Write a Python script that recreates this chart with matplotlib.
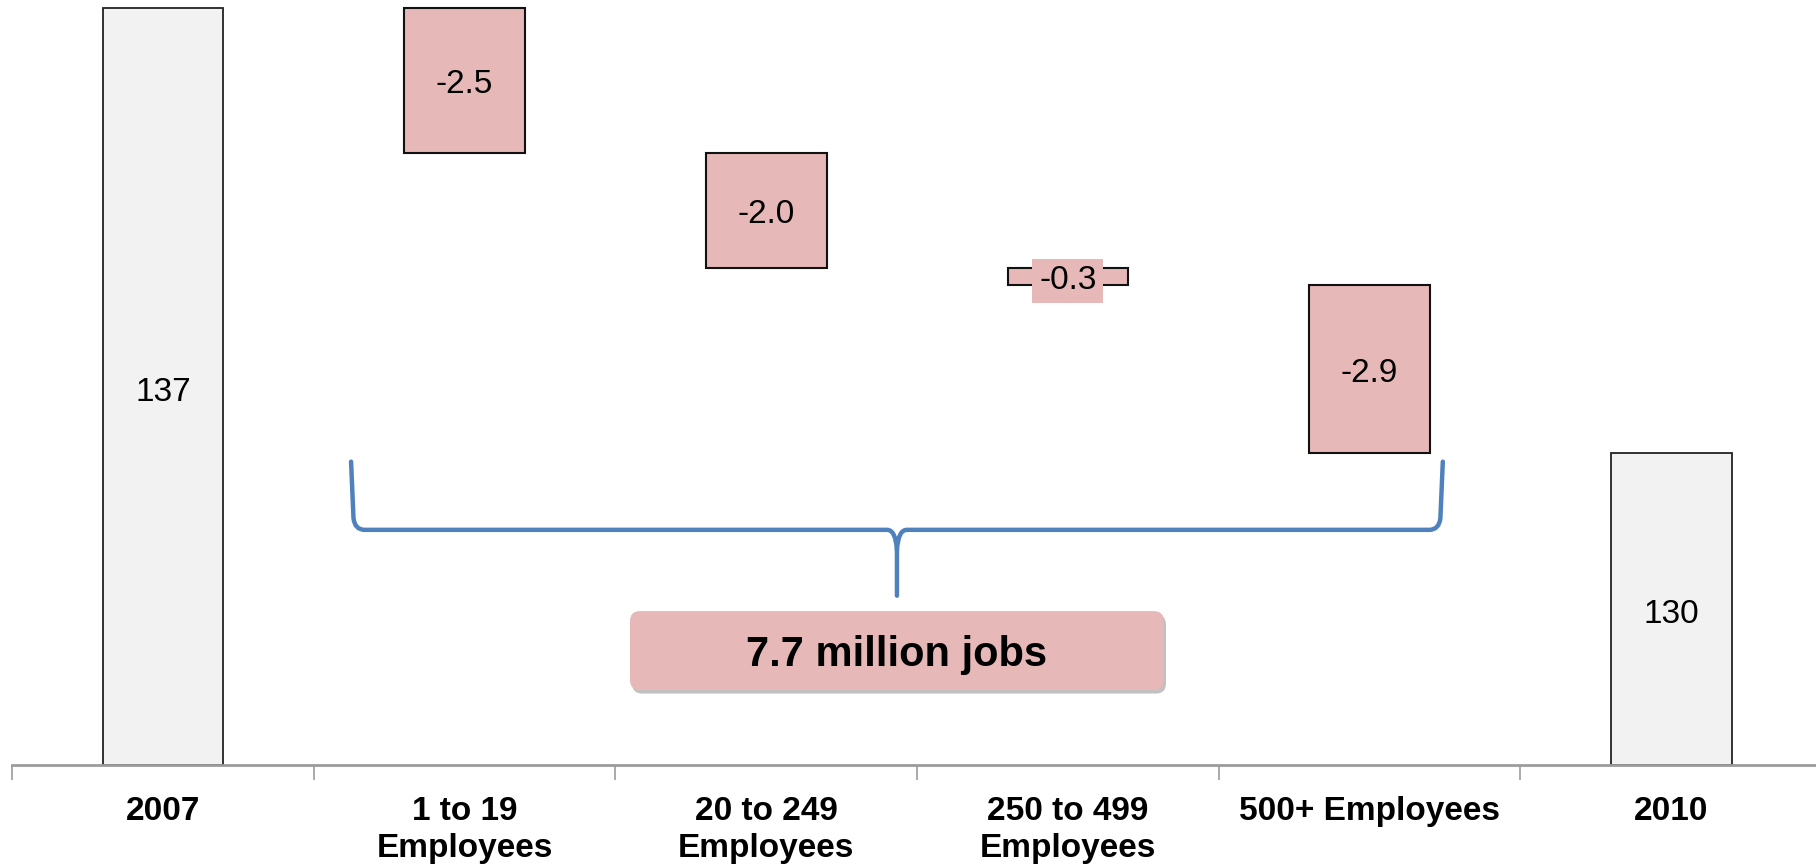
import matplotlib
matplotlib.use("Agg")
import matplotlib.pyplot as plt
import matplotlib.patheffects as pe
from matplotlib.patches import FancyBboxPatch, PathPatch
from matplotlib.path import Path

plt.rcParams["font.family"] = ["Liberation Sans", "DejaVu Sans"]

# Payroll jobs (millions): totals at both ends, losses by firm size in between
categories = ["2007", "1 to 19\nEmployees", "20 to 249\nEmployees",
              "250 to 499\nEmployees", "500+ Employees", "2010"]
total_2007 = 137.3
changes = [-2.5, -2.0, -0.3, -2.9]
total_2010 = 129.6
summary_text = "7.7 million jobs"

TOTAL_COLOR = "#f2f2f2"
LOSS_COLOR = "#e6b9b8"
BRACE_COLOR = "#4f81bd"
AXIS_GREY = "#9c9c9c"
BAR_W = 0.4
Y0 = 124.2

fig = plt.figure(figsize=(18.16, 8.65), dpi=100)
ax = fig.add_axes([12 / 1816, 100 / 865, 1810 / 1816, 765 / 865])

# totals
ax.bar([0, 5], [total_2007 - Y0, total_2010 - Y0], bottom=Y0, width=BAR_W,
       color=TOTAL_COLOR, edgecolor="#222222", linewidth=1.3, zorder=2)
for x, v in [(0, total_2007), (5, total_2010)]:
    ax.annotate(f"{v:.0f}", (x, (v + Y0) / 2), xytext=(0, -4), textcoords="offset points",
                ha="center", va="center", fontsize=24)

# floating losses
level = total_2007
for i, d in enumerate(changes, start=1):
    ax.bar(i, d, bottom=level, width=BAR_W, color=LOSS_COLOR,
           edgecolor="#111111", linewidth=1.5, zorder=2)
    ax.annotate(f"{d:.1f}", (i, level + d / 2), xytext=(0, -3), textcoords="offset points",
                ha="center", va="center", fontsize=24, zorder=3,
                bbox=dict(boxstyle="square,pad=0.2", facecolor=LOSS_COLOR, edgecolor="none"))
    level += d

ax.set_xlim(-0.5, 5.5)
ax.set_ylim(Y0, 137.44)

# axis styling: ticks between categories, labels centred under bars
for side in ("left", "right", "top"):
    ax.spines[side].set_visible(False)
ax.spines["bottom"].set_color(AXIS_GREY)
ax.spines["bottom"].set_linewidth(2)
ax.set_yticks([])
ax.set_xticks([i - 0.5 for i in range(len(categories) + 1)])
ax.set_xticklabels([])
ax.tick_params(axis="x", which="major", length=11, width=1.2, color=AXIS_GREY, direction="out")
ax.set_xticks(range(len(categories)), minor=True)
ax.set_xticklabels(categories, minor=True, fontsize=24, fontweight="bold", linespacing=1.28)
ax.tick_params(axis="x", which="minor", length=0, pad=22)

# curly brace spanning the four loss bars
x0, x1 = 0.624, 4.243
xm = (x0 + x1) / 2
y_top, y_bar, y_tip = 129.45, 128.27, 127.13
cdx, cdy = 0.045, 0.17
mdx, mdy = 0.033, 0.35
verts = [
    (x0, y_top),
    (x0 + 0.008, y_bar + cdy * 1.2),
    (x0 + 0.012, y_bar), (x0 + cdx, y_bar),
    (xm - mdx, y_bar),
    (xm - 0.004, y_bar), (xm, y_bar - mdy),
    (xm, y_tip),
    (xm, y_bar - mdy),
    (xm + 0.004, y_bar), (xm + mdx, y_bar),
    (x1 - cdx, y_bar),
    (x1 - 0.012, y_bar), (x1 - 0.008, y_bar + cdy * 1.2),
    (x1, y_top),
]
codes = [Path.MOVETO, Path.LINETO, Path.CURVE3, Path.CURVE3, Path.LINETO,
         Path.CURVE3, Path.CURVE3, Path.LINETO, Path.MOVETO, Path.CURVE3,
         Path.CURVE3, Path.LINETO, Path.CURVE3, Path.CURVE3, Path.LINETO]
brace = PathPatch(Path(verts, codes), facecolor="none", edgecolor=BRACE_COLOR,
                  linewidth=3.2, capstyle="round", joinstyle="round", zorder=3)
ax.add_patch(brace)

# summary callout
bw, bh = 1.77, 1.367
bx, by = xm - bw / 2, 126.18 - bh / 2
box = FancyBboxPatch((bx, by), bw, bh, boxstyle="round,pad=0,rounding_size=0.033",
                     mutation_aspect=5.22, facecolor=LOSS_COLOR, edgecolor="none", zorder=3)
box.set_path_effects([pe.SimplePatchShadow(offset=(1.5, -2.5), shadow_rgbFace="#777777", alpha=0.45),
                      pe.Normal()])
ax.add_patch(box)
ax.annotate(summary_text, (xm, 126.18), xytext=(0, -3.5), textcoords="offset points",
            ha="center", va="center", fontsize=30, fontweight="bold", zorder=4)

fig.savefig("out.png", dpi=100)
